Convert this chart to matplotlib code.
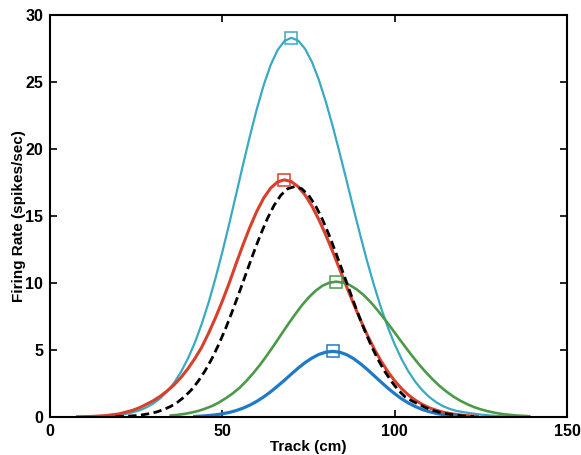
import matplotlib
matplotlib.use("Agg")
import matplotlib.pyplot as plt

# values (track position in cm, firing rate in spikes/sec)
cyan_x = [10, 14, 18, 22, 24, 26, 28, 30, 32, 34, 36, 38, 40, 42, 44, 46, 48, 50,
          52, 54, 56, 58, 60, 62, 64, 66, 68, 70, 72, 74, 76, 78, 80, 82, 84, 86,
          88, 90, 92, 94, 96, 98, 100, 102, 104, 106, 108, 110, 112, 114, 116,
          118, 122, 126, 130, 134, 138]
cyan_y = [0.02, 0.04, 0.10, 0.23, 0.35, 0.50, 0.72, 1.01, 1.40, 1.91, 2.55, 3.36,
          4.35, 5.53, 6.93, 8.53, 10.34, 12.31, 14.42, 16.61, 18.82, 20.97, 22.98,
          24.77, 26.26, 27.37, 28.06, 28.3, 28.09, 27.48, 26.49, 25.16, 23.55,
          21.72, 19.74, 17.69, 15.61, 13.58, 11.63, 9.83, 8.18, 6.70, 5.42, 4.32,
          3.39, 2.62, 2.0, 1.50, 1.11, 0.81, 0.60, 0.45, 0.28, 0.15, 0.07, 0.03, 0.0]

red_x = [8, 12, 16, 20, 24, 26, 28, 30, 32, 34, 36, 38, 40, 42, 44, 46, 48, 50, 52,
         54, 56, 58, 60, 62, 64, 66, 68, 70, 72, 74, 76, 78, 80, 82, 84, 86, 88, 90,
         92, 94, 96, 98, 100, 102, 104, 106, 108, 110, 112, 114, 116, 120, 124]
red_y = [0.02, 0.04, 0.10, 0.23, 0.50, 0.70, 0.95, 1.22, 1.55, 1.95, 2.40, 2.95,
         3.60, 4.35, 5.20, 6.25, 7.40, 8.65, 10.0, 11.45, 12.85, 14.17, 15.35,
         16.34, 17.08, 17.54, 17.7, 17.57, 17.19, 16.57, 15.74, 14.73, 13.59, 12.35,
         11.06, 9.76, 8.49, 7.28, 6.15, 5.11, 4.19, 3.39, 2.70, 2.12, 1.64, 1.25,
         0.94, 0.69, 0.51, 0.36, 0.26, 0.12, 0.05]

black_x = [19, 23, 25, 27, 29, 31, 33, 35, 37, 39, 41, 43, 45, 47, 49, 51, 53, 55,
           57, 59, 61, 63, 65, 67, 69, 71, 73, 75, 77, 79, 81, 83, 85, 87, 89, 91,
           93, 95, 97, 99, 101, 103, 105, 107, 109, 111, 113, 115, 119, 123]
black_y = [0.02, 0.07, 0.11, 0.17, 0.26, 0.38, 0.56, 0.79, 1.10, 1.51, 2.02, 2.67,
           3.45, 4.37, 5.44, 6.64, 7.96, 9.36, 10.79, 12.21, 13.56, 14.77, 15.79,
           16.56, 17.04, 17.2, 17.04, 16.56, 15.79, 14.77, 13.56, 12.21, 10.79, 9.36,
           7.96, 6.64, 5.44, 4.37, 3.45, 2.67, 2.02, 1.51, 1.20, 0.95, 0.70, 0.50,
           0.36, 0.25, 0.10, 0.03]

green_x = [35, 37, 39, 41, 43, 45, 47, 49, 51, 53, 55, 57, 59, 61, 63, 65, 67, 69,
           71, 73, 75, 77, 79, 81, 83, 85, 87, 89, 91, 93, 95, 97, 99, 101, 103, 105,
           107, 109, 111, 113, 115, 117, 119, 121, 123, 125, 127, 129, 131, 133, 135,
           137, 139]
green_y = [0.11, 0.16, 0.23, 0.33, 0.45, 0.62, 0.82, 1.08, 1.40, 1.76, 2.18, 2.70,
           3.28, 3.92, 4.62, 5.36, 6.13, 6.89, 7.62, 8.31, 8.91, 9.41, 9.79, 10.02,
           10.1, 10.03, 9.84, 9.52, 9.10, 8.58, 7.98, 7.33, 6.65, 5.95, 5.26, 4.58,
           3.94, 3.35, 2.81, 2.32, 1.90, 1.53, 1.22, 0.96, 0.74, 0.57, 0.43, 0.32,
           0.23, 0.17, 0.12, 0.09, 0.06]

blue_x = [42, 44, 46, 48, 50, 52, 54, 56, 58, 60, 62, 64, 66, 68, 70, 72, 74, 76, 78,
          80, 82, 84, 86, 88, 90, 92, 94, 96, 98, 100, 102, 104, 106, 108, 110, 112,
          114, 116, 118]
blue_y = [0.04, 0.07, 0.11, 0.16, 0.24, 0.34, 0.48, 0.66, 0.89, 1.17, 1.50, 1.88,
          2.30, 2.74, 3.20, 3.65, 4.06, 4.40, 4.67, 4.84, 4.9, 4.84, 4.66, 4.37, 3.99,
          3.56, 3.09, 2.62, 2.16, 1.74, 1.36, 1.04, 0.78, 0.56, 0.40, 0.27, 0.18,
          0.12, 0.08]

# peak markers (x, y)
peak_x = [70, 68, 83, 82]
peak_y = [28.3, 17.7, 10.1, 4.9]

CYAN = "#3aa9c2"
RED = "#d8402c"
GREEN = "#4b9a48"
BLUE = "#1f79c6"
peak_colors = [CYAN, RED, GREEN, BLUE]

plt.rcParams["font.family"] = ["Liberation Sans", "DejaVu Sans"]

fig = plt.figure(figsize=(5.81, 4.55), dpi=100)
ax = fig.add_axes([0.086, 0.0835, 0.890, 0.8835])

ax.plot(cyan_x, cyan_y, color=CYAN, lw=1.6)
ax.plot(red_x, red_y, color=RED, lw=2.2)
ax.plot(green_x, green_y, color=GREEN, lw=1.9)
ax.plot(blue_x, blue_y, color=BLUE, lw=2.3)
ax.plot(black_x, black_y, color="black", lw=2.0, ls=(0, (3, 1.6)))

for px, py, c in zip(peak_x, peak_y, peak_colors):
    ax.plot(px, py, marker="s", ms=8.5, mfc="none", mec=c, mew=1.1)

ax.set_xlim(0, 150)
ax.set_ylim(0, 30)
ax.set_xticks([0, 50, 100, 150])
ax.set_yticks([0, 5, 10, 15, 20, 25, 30])
ax.tick_params(direction="in", top=True, right=True, length=5, width=1.2,
               labelsize=11.5, pad=5)
for lab in ax.get_xticklabels() + ax.get_yticklabels():
    lab.set_fontweight("bold")
for s in ax.spines.values():
    s.set_linewidth(1.5)

ax.set_xlabel("Track (cm)", fontsize=11, fontweight="bold", labelpad=1)
ax.set_ylabel("Firing Rate (spikes/sec)", fontsize=11, fontweight="bold", labelpad=-1)

fig.savefig("out.png", dpi=100)
